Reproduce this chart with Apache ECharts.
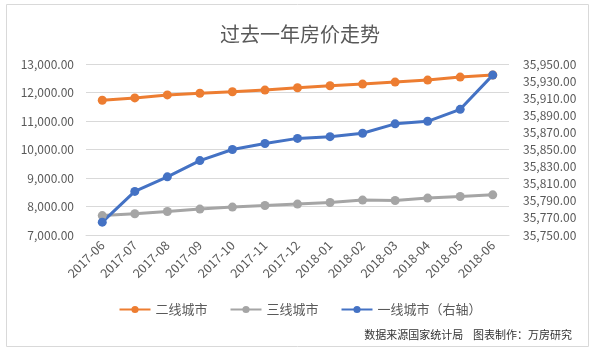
<!DOCTYPE html>
<html><head><meta charset="utf-8">
<script src="https://cdn.jsdelivr.net/npm/echarts@6/dist/echarts.min.js"></script>
<style>html,body{margin:0;padding:0;background:#fff}#c{width:600px;height:355px}</style>
</head><body><div id="c"></div>
<script>
const categories = ['2017-06','2017-07','2017-08','2017-09','2017-10','2017-11','2017-12','2018-01','2018-02','2018-03','2018-04','2018-05','2018-06'];
const tier2 = [11730, 11810, 11915, 11975, 12025, 12085, 12165, 12235, 12295, 12365, 12435, 12540, 12615];
const tier3 = [7680, 7745, 7825, 7910, 7980, 8035, 8085, 8140, 8225, 8210, 8295, 8350, 8410];
const tier1 = [35765, 35801, 35818, 35837, 35850, 35857, 35863, 35865, 35869, 35880, 35883, 35897, 35937];
const seriesNames = ['二线城市', '三线城市', '一线城市（右轴）'];

const chart = echarts.init(document.getElementById('c'), null, {renderer: 'canvas'});
const fmt = v => v.toLocaleString('en-US', {minimumFractionDigits: 2, maximumFractionDigits: 2});
const font = '"Noto Sans CJK SC", "Noto Sans", sans-serif';
const lbl = {color: '#595959', fontSize: 12, fontFamily: font};
function mk(name, data, color, yi) {
  return {name, type: 'line', data, yAxisIndex: yi, symbol: 'circle', symbolSize: 9,
    lineStyle: {width: 3, color}, itemStyle: {color}, emphasis: {disabled: true}};
}
chart.setOption({
  animation: false,
  graphic: [
    {type: 'rect', shape: {x: 6.5, y: 4.5, width: 582, height: 342}, style: {fill: 'none', stroke: '#d9d9d9', lineWidth: 1}},
    {type: 'text', right: 28, top: 329, style: {text: '数据来源国家统计局    图表制作：万房研究', fontSize: 11, fill: '#333', fontFamily: font}}
  ],
  title: {text: '过去一年房价走势', left: 'center', top: 19, textStyle: {fontSize: 20, fontWeight: 'normal', color: '#595959', fontFamily: font}},
  grid: {left: 86, right: 91, top: 64, bottom: 120},
  legend: {data: seriesNames, top: 298, left: 'center', itemWidth: 31, itemHeight: 9, itemGap: 22,
    textStyle: {fontSize: 13, color: '#595959', fontFamily: font}},
  xAxis: {type: 'category', data: categories, boundaryGap: true,
    axisLine: {lineStyle: {color: '#d9d9d9'}}, axisTick: {lineStyle: {color: '#d9d9d9'}, length: 5},
    axisLabel: {rotate: 45, interval: 0, fontSize: 12.5, margin: 8, color: '#595959', fontFamily: font}},
  yAxis: [
    {type: 'value', min: 7000, max: 13000, interval: 1000, axisLine: {show: false}, axisTick: {show: false},
      splitLine: {lineStyle: {color: '#d9d9d9'}}, axisLabel: Object.assign({formatter: fmt, margin: 12}, lbl)},
    {type: 'value', min: 35750, max: 35950, interval: 20, axisLine: {show: false}, axisTick: {show: false},
      splitLine: {show: false}, axisLabel: Object.assign({formatter: fmt, margin: 14}, lbl)}
  ],
  series: [mk(seriesNames[0], tier2, '#ED7D31', 0), mk(seriesNames[1], tier3, '#A5A5A5', 0), mk(seriesNames[2], tier1, '#4472C4', 1)]
});
</script></body></html>
